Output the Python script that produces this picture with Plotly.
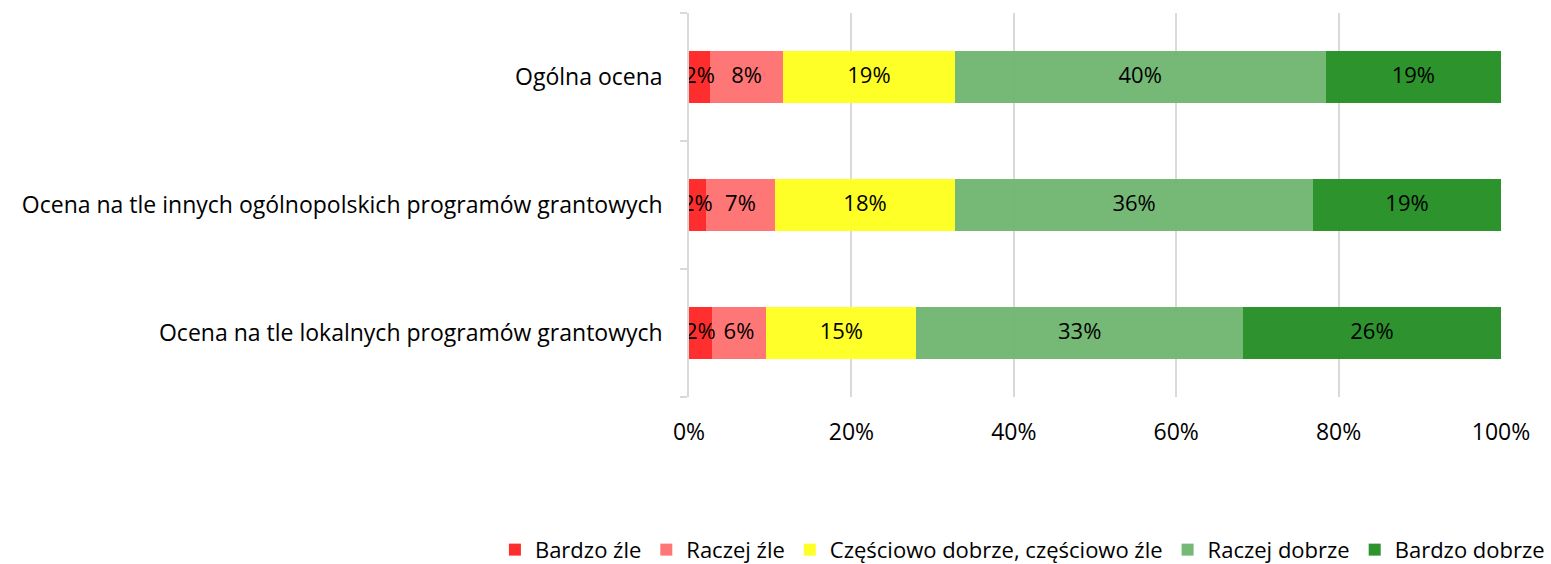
import plotly.graph_objects as go

categories = ["Ogólna ocena",
              "Ocena na tle innych ogólnopolskich programów grantowych",
              "Ocena na tle lokalnych programów grantowych"]
series_names = ["Bardzo źle", "Raczej źle", "Częściowo dobrze, częściowo źle",
                "Raczej dobrze", "Bardzo dobrze"]
bardzo_zle = [2.3, 1.7, 2.3]
raczej_zle = [7.9, 7.0, 5.5]
czesciowo = [18.6, 18.2, 15.2]
raczej_dobrze = [40.2, 36.2, 33.0]
bardzo_dobrze = [19.0, 19.0, 26.1]
colors = ["#ff2828", "#ff7272", "#ffff22", "#72b772", "#279027"]
tick_vals = [0, 20, 40, 60, 80, 100]
tick_text = ["0%", "20%", "40%", "60%", "80%", "100%"]

FONT = "Open Sans, sans-serif"
all_series = [bardzo_zle, raczej_zle, czesciowo, raczej_dobrze, bardzo_dobrze]
fig = go.Figure()
for name, vals, col in zip(series_names, all_series, colors):
    fig.add_trace(go.Bar(
        y=categories, x=vals, name=name, orientation="h",
        marker=dict(color=col, line=dict(width=0)), opacity=0.97,
    ))

# value labels drawn on top of all bars (centre of each normalised segment)
totals = [sum(s[i] for s in all_series) for i in range(len(categories))]
cum = [0.0] * len(categories)
for vals in all_series:
    mids = []
    for i, v in enumerate(vals):
        start = cum[i] / totals[i] * 100
        end = (cum[i] + v) / totals[i] * 100
        mids.append((start + end) / 2)
        cum[i] += v
    fig.add_trace(go.Scatter(
        x=mids, y=categories, mode="text",
        text=[f"{round(v)}%" for v in vals], textposition="middle center",
        textfont=dict(color="black", size=22, family=FONT),
        showlegend=False, hoverinfo="skip",
    ))

fig.update_layout(
    barmode="stack", barnorm="percent", bargap=0.59,
    width=1551, height=564, plot_bgcolor="white", paper_bgcolor="white",
    margin=dict(l=689, r=50, t=13, b=167, autoexpand=False),
    font=dict(family=FONT, size=23, color="black"),
    legend=dict(orientation="h", x=-0.239, xanchor="left", y=-0.398, yanchor="middle",
                font=dict(size=22, family=FONT), traceorder="normal",
                tracegroupgap=0),
    showlegend=True,
)
fig.update_xaxes(range=[0, 100], tickvals=tick_vals, ticktext=tick_text,
                 showgrid=True, gridcolor="#d9d9d9", gridwidth=1.5,
                 zeroline=False, showline=False, ticks="",
                 ticklabelstandoff=19, tickfont=dict(size=23))
fig.update_yaxes(categoryorder="array", categoryarray=categories[::-1],
                 showline=True, linecolor="#d9d9d9", linewidth=1.5,
                 ticks="outside", tickson="boundaries", ticklen=7,
                 tickcolor="#d9d9d9", tickwidth=1.5, showgrid=False,
                 ticklabelstandoff=20, tickfont=dict(size=23))
fig.write_html("out.html", config={"displayModeBar": False},
               post_script="document.body.style.margin='0';document.body.style.overflow='hidden';")
